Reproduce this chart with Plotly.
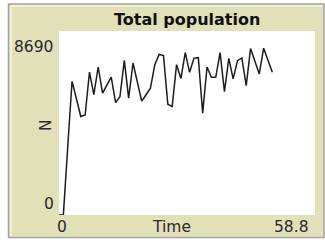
import plotly.graph_objects as go

# ---- data ----
time = [0, 1, 2, 3, 4, 5, 6, 7, 8, 9,
        10, 11, 12, 13, 14, 15, 16, 17, 18, 19,
        20, 21, 22, 23, 24, 25, 26, 27, 28, 29,
        30, 31, 32, 33, 34, 35, 36, 37, 38, 39,
        40, 41, 42, 43, 44, 45, 46, 47, 48, 49]
population = [0, 0, 3200, 6310, 5490, 4650, 4720, 6750, 5680, 6990,
              5760, 6130, 6510, 5310, 5590, 7300, 5520, 7180, 6200, 5380,
              5680, 5990, 7100, 7580, 7530, 5230, 5120, 7100, 6450, 7670,
              6740, 7410, 7430, 4810, 6990, 6500, 6500, 7670, 5830, 7400,
              6430, 7290, 7420, 6110, 7860, 7270, 6660, 7880, 7340, 6740]

title_text = "Total population"
x_title = "Time"
y_title = "N"
x_min_label, x_max_label = "0", "58.8"
y_min_label, y_max_label = "0", "8690"
x_max = 58.8
y_max = 8690

# ---- layout geometry (pixels) ----
W, H = 325, 245
L, R, T, B = 59, 10, 31, 30
PW = W - L - R
PH = H - T - B


def px(x):
    return (x - L) / PW


def py(y):
    return (H - B - y) / PH


BEIGE = "#e1e0b9"
TEXT = "#2a2a2a"
FONT = "DejaVu Sans"

fig = go.Figure()
fig.add_trace(go.Scatter(x=time, y=population, mode="lines",
                         line=dict(color="#1c1c1c", width=1.5),
                         hoverinfo="skip", showlegend=False))

shapes = [
    # outer frame
    dict(type="rect", xref="paper", yref="paper", layer="below",
         x0=px(8.5), x1=px(324), y0=py(4), y1=py(237.5),
         fillcolor=BEIGE, line=dict(color="#a3a3a3", width=1.5)),
    # white inner highlight (left / top)
    dict(type="line", xref="paper", yref="paper", layer="below",
         x0=px(11), x1=px(11), y0=py(6), y1=py(236),
         line=dict(color="#ffffff", width=1)),
    dict(type="line", xref="paper", yref="paper", layer="below",
         x0=px(11), x1=px(322), y0=py(6), y1=py(6),
         line=dict(color="#ffffff", width=1)),
    # white plot area
    dict(type="rect", xref="paper", yref="paper", layer="below",
         x0=0, x1=1, y0=0, y1=1,
         fillcolor="#ffffff", line=dict(width=0)),
]

font = dict(family=FONT, size=15.5, color=TEXT)
annotations = [
    dict(text="<b>%s</b>" % title_text, x=px(187), y=py(19.5),
         xanchor="center", yanchor="middle",
         font=dict(family=FONT, size=16, color="#111111")),
    dict(text=y_max_label, x=px(55), y=py(47), xanchor="right", yanchor="middle", font=font),
    dict(text=y_min_label, x=px(56), y=py(204), xanchor="right", yanchor="middle", font=font),
    dict(text=y_title, x=px(46), y=py(125), xanchor="center", yanchor="middle",
         textangle=-90, font=font),
    dict(text=x_min_label, x=px(62), y=py(227), xanchor="center", yanchor="middle", font=font),
    dict(text=x_title, x=px(171), y=py(226.5), xanchor="center", yanchor="middle", font=font),
    dict(text=x_max_label, x=px(311), y=py(226.5), xanchor="right", yanchor="middle", font=font),
]
for a in annotations:
    a.update(xref="paper", yref="paper", showarrow=False)

fig.update_layout(
    width=W, height=H,
    margin=dict(l=L, r=R, t=T, b=B, pad=0),
    paper_bgcolor="#ffffff", plot_bgcolor="#ffffff",
    shapes=shapes, annotations=annotations,
    xaxis=dict(range=[0, x_max], visible=False, fixedrange=True),
    yaxis=dict(range=[0, y_max], visible=False, fixedrange=True),
    showlegend=False,
)

fig.write_html("out.html", config={"displayModeBar": False},
               post_script="document.body.style.margin='0';"
                           "document.body.style.overflow='hidden';")
